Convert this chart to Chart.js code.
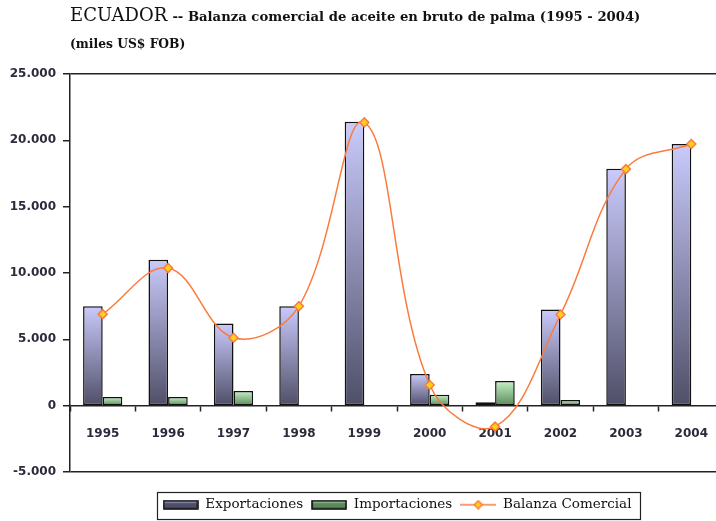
<!DOCTYPE html>
<html lang="es">
<head>
    <meta charset="UTF-8">
    <title>Ecuador - Balanza comercial de aceite en bruto de palma</title>
    <script src="https://cdn.jsdelivr.net/npm/chart.js"></script>
    <style>
        body { margin: 0; overflow: hidden; background: #fff; width: 716px; height: 521px; }
        .titulo { position: absolute; left: 70px; top: 4px; font-family: "DejaVu Serif", serif; color: #111; z-index: 2; white-space: nowrap; }
        .titulo .pais { font-size: 18px; }
        .titulo .desc { font-size: 13.2px; font-weight: bold; }
        .sub { position: absolute; left: 70px; top: 36px; font-family: "DejaVu Serif", serif; font-size: 12.3px; font-weight: bold; color: #111; z-index: 2; }
        .wrap { position: absolute; left: 0; top: 0; width: 730px; height: 521px; }
    </style>
</head>
<body>

    <div class="titulo"><span class="pais">ECUADOR</span> <span class="desc">-- Balanza comercial de aceite en bruto de palma (1995 - 2004)</span></div>
    <div class="sub">(miles US$ FOB)</div>

    <div class="wrap"><canvas id="balanzaChart"></canvas></div>

    <script>
        // datos (miles US$ FOB)
        const anios = ['1995', '1996', '1997', '1998', '1999', '2000', '2001', '2002', '2003', '2004'];
        const exportaciones = [7500, 11000, 6200, 7500, 21400, 2380, 250, 7250, 17850, 19730];
        const importaciones = [650, 650, 1100, null, null, 830, 1850, 430, null, null];
        const balanza = [6900, 10370, 5120, 7500, 21350, 1560, -1580, 6870, 17830, 19720];

        // colores
        const expTop = '#cacafc', expBottom = '#4f4f68';
        const impTop = '#c4f2c4', impBottom = '#5c885c';
        const naranja = '#fb7b3c', amarillo = '#ffd21a';

        // degradado vertical por barra
        function rellenoBarra(top, bottom) {
            return function(ctx) {
                const chart = ctx.chart;
                if (ctx.type !== 'data' || !chart.scales || !chart.scales.y || ctx.raw == null) return bottom;
                const y = chart.scales.y;
                const yTop = y.getPixelForValue(ctx.raw);
                const yBase = y.getPixelForValue(0);
                if (Math.abs(yBase - yTop) < 1) return bottom;
                const g = chart.ctx.createLinearGradient(0, yTop, 0, yBase);
                g.addColorStop(0, top);
                g.addColorStop(1, bottom);
                return g;
            };
        }

        // iconos de la leyenda
        function iconoBarra(top, bottom) {
            const c = document.createElement('canvas');
            c.width = 36; c.height = 10;
            const g = c.getContext('2d');
            const gr = g.createLinearGradient(0, 1, 0, 9);
            gr.addColorStop(0, top);
            gr.addColorStop(0.35, bottom);
            gr.addColorStop(1, bottom);
            g.fillStyle = gr;
            g.fillRect(1, 1, 34, 8);
            g.strokeStyle = '#000';
            g.lineWidth = 1.5;
            g.strokeRect(1, 1, 34, 8);
            return c;
        }
        function iconoLinea() {
            const c = document.createElement('canvas');
            c.width = 36; c.height = 10;
            const g = c.getContext('2d');
            g.strokeStyle = naranja;
            g.lineWidth = 1.5;
            g.beginPath(); g.moveTo(0, 5); g.lineTo(36, 5); g.stroke();
            g.beginPath(); g.moveTo(18, 1); g.lineTo(22, 5); g.lineTo(18, 9); g.lineTo(14, 5); g.closePath();
            g.fillStyle = amarillo; g.fill(); g.stroke();
            return c;
        }
        const iconos = [iconoBarra(expTop, expBottom), iconoBarra(impTop, impBottom), iconoLinea()];

        function miles(v) {
            return String(v).replace(/\B(?=(\d{3})+(?!\d))/g, '.');
        }

        // borde de la leyenda y posicion
        const marcoLeyenda = {
            id: 'marcoLeyenda',
            afterLayout(chart) {
                const lg = chart.legend;
                lg.top = 490;
                lg.bottom = lg.top + lg.height;
            },
            afterDraw(chart) {
                const hb = chart.legend.legendHitBoxes;
                if (!hb || !hb.length) return;
                const l = hb[0].left - 6;
                const last = hb[hb.length - 1];
                const r = last.left + last.width + 8;
                const ctx = chart.ctx;
                ctx.save();
                ctx.strokeStyle = '#222';
                ctx.lineWidth = 1.2;
                ctx.strokeRect(Math.round(l) + 0.5, 492.5, Math.round(r - l), 27);
                ctx.restore();
            }
        };

        const ctx = document.getElementById('balanzaChart').getContext('2d');
        const balanzaChart = new Chart(ctx, {
            type: 'bar',
            data: {
                labels: anios,
                datasets: [{
                    label: 'Exportaciones',
                    data: exportaciones,
                    backgroundColor: rellenoBarra(expTop, expBottom),
                    borderColor: '#111',
                    borderWidth: 1.5,
                    borderSkipped: false,
                    order: 1
                }, {
                    label: 'Importaciones',
                    data: importaciones,
                    backgroundColor: rellenoBarra(impTop, impBottom),
                    borderColor: '#111',
                    borderWidth: 1.5,
                    borderSkipped: false,
                    order: 2
                }, {
                    type: 'line',
                    label: 'Balanza Comercial',
                    data: balanza,
                    borderColor: naranja,
                    borderWidth: 1.5,
                    tension: 0.38,
                    fill: false,
                    pointStyle: 'rectRot',
                    pointRadius: 4.5,
                    pointBackgroundColor: amarillo,
                    pointBorderColor: naranja,
                    pointBorderWidth: 1.5,
                    order: 0
                }]
            },
            options: {
                responsive: true,
                maintainAspectRatio: false,
                animation: false,
                layout: { padding: { top: 74, left: 0, right: 4, bottom: 17.5 } },
                datasets: {
                    bar: { categoryPercentage: 0.6, barPercentage: 1.0 }
                },
                scales: {
                    x: {
                        position: { y: 0 },
                        offset: true,
                        grid: { drawOnChartArea: false, drawTicks: true, tickLength: 5, tickColor: '#222', tickWidth: 1.5, offset: true },
                        border: { color: '#222', width: 1.5 },
                        ticks: { color: '#2b2b3b', padding: 16, font: { family: 'DejaVu Sans', size: 12, weight: 'bold' } }
                    },
                    y: {
                        min: -5000,
                        max: 25000,
                        afterFit(scale) { scale.width = 70; },
                        ticks: {
                            stepSize: 5000,
                            padding: 7,
                            color: '#2b2b3b',
                            font: { family: 'DejaVu Sans', size: 12, weight: 'bold' },
                            callback: v => miles(v)
                        },
                        grid: {
                            color: c => (c.tick && (c.tick.value === 25000 || c.tick.value === -5000)) ? '#222' : 'rgba(0,0,0,0)',
                            lineWidth: 1.5,
                            tickColor: '#222',
                            tickLength: 7,
                            tickWidth: 1.5
                        },
                        border: { color: '#222', width: 1.5 }
                    }
                },
                plugins: {
                    tooltip: { enabled: false },
                    legend: {
                        position: 'bottom',
                        fullSize: false,
                        labels: {
                            usePointStyle: true,
                            pointStyleWidth: 36,
                            boxHeight: 10,
                            padding: 8,
                            color: '#111',
                            font: { family: 'DejaVu Serif', size: 13.5 },
                            sort: (a, b) => a.datasetIndex - b.datasetIndex,
                            generateLabels(chart) {
                                const items = Chart.defaults.plugins.legend.labels.generateLabels(chart);
                                items.forEach(it => { it.pointStyle = iconos[it.datasetIndex]; });
                                return items;
                            }
                        }
                    }
                }
            },
            plugins: [marcoLeyenda]
        });
    </script>

</body>
</html>
